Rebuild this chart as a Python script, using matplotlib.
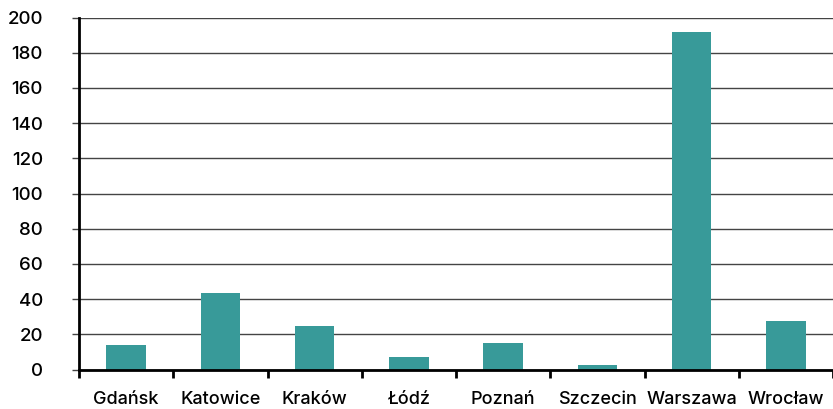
import numpy as np
import matplotlib.pyplot as plt

cities = ["Gdańsk", "Katowice", "Kraków", "Łódź", "Poznań", "Szczecin", "Warszawa", "Wrocław"]
values = [14, 43.6, 24.7, 7.1, 15.2, 2.6, 191.8, 27.6]
yticks = [0, 20, 40, 60, 80, 100, 120, 140, 160, 180, 200]

plt.rcParams['font.family'] = ['Inter', 'DejaVu Sans']
plt.rcParams['font.weight'] = 'medium'

W, H = 833, 409
fig = plt.figure(figsize=(W / 100, H / 100), dpi=100)
ax = fig.add_axes([79 / W, 1 - 369.5 / H, 1 - 79 / W, (369.5 - 17.5) / H])

x = np.arange(len(cities))
ax.bar(x, values, width=0.42, color='#389A99', zorder=3)

ax.set_xlim(-0.5, len(cities) - 0.5)
ax.set_ylim(0, 200)
ax.set_yticks(yticks)
ax.yaxis.grid(True, color='#444444', linewidth=1.0, zorder=0)

ax.set_xticks(x)
ax.set_xticklabels(cities)
ax.set_xticks(np.arange(len(cities) + 1) - 0.5, minor=True)
ax.tick_params(axis='x', which='major', length=0, pad=15.5, labelsize=13)
ax.tick_params(axis='x', which='minor', length=6, width=2, color='black', direction='out')
ax.tick_params(axis='y', length=5, width=1, color='#444444', pad=21, labelsize=13.5)

for s in ['top', 'right']:
    ax.spines[s].set_visible(False)
for s in ['left', 'bottom']:
    ax.spines[s].set_linewidth(2)
    ax.spines[s].set_zorder(4)

fig.savefig('out.png', dpi=100)
